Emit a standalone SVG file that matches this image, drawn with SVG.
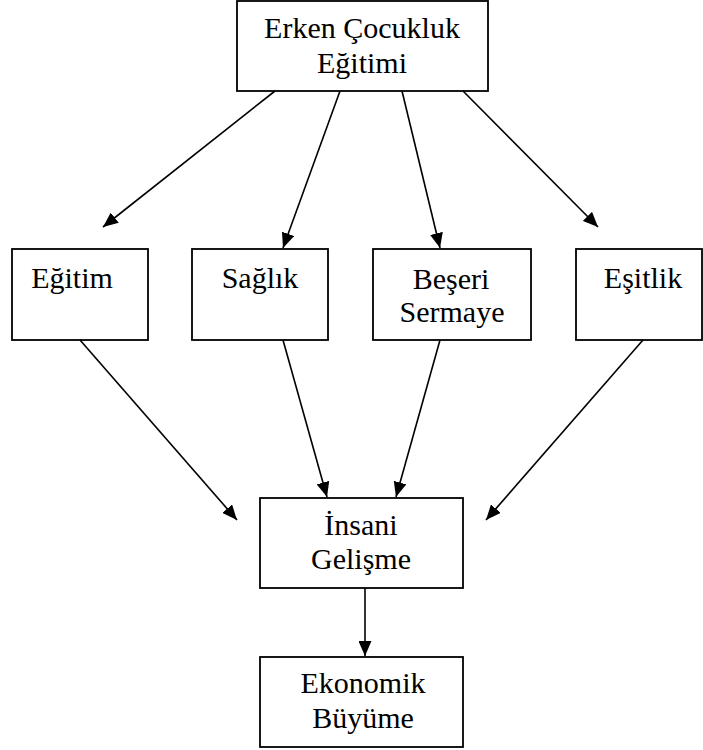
<svg xmlns="http://www.w3.org/2000/svg" width="703" height="750" viewBox="0 0 703 750">
<style>
.box{fill:#fff;stroke:#000;stroke-width:1.8}
.t{font-family:"Liberation Serif","Times New Roman","DejaVu Serif",serif;font-size:30px;fill:#000;text-anchor:middle}
.c line{stroke:#000;stroke-width:1.6;marker-end:url(#ah)}
</style>
<defs>
<marker id="ah" viewBox="0 0 15 13" refX="15" refY="6.5" markerWidth="15" markerHeight="13" markerUnits="userSpaceOnUse" orient="auto">
<path d="M0,0 L15,6.5 L0,13 Z" fill="#000"/>
</marker>
</defs>
<rect width="703" height="750" fill="#fff"/>
<g id="n-erken"><rect class="box" x="237" y="1" width="251" height="90"/><text class="t" x="362" y="38">Erken Çocukluk</text><text class="t" x="362" y="73">Eğitimi</text></g>
<g id="n-egitim"><rect class="box" x="12" y="249" width="136" height="91"/><text class="t" x="72" y="288">Eğitim</text></g>
<g id="n-saglik"><rect class="box" x="192" y="249" width="136" height="91"/><text class="t" x="260" y="288">Sağlık</text></g>
<g id="n-beseri"><rect class="box" x="373" y="249" width="158" height="91"/><text class="t" x="451" y="289">Beşeri</text><text class="t" x="452" y="322">Sermaye</text></g>
<g id="n-esitlik"><rect class="box" x="576" y="249" width="126" height="91"/><text class="t" x="643" y="288">Eşitlik</text></g>
<g id="n-insani"><rect class="box" x="260" y="498" width="203" height="90"/><text class="t" x="361" y="535">İnsani</text><text class="t" x="361" y="569">Gelişme</text></g>
<g id="n-ekonomik"><rect class="box" x="260" y="657" width="203" height="90"/><text class="t" x="363" y="693">Ekonomik</text><text class="t" x="363" y="728">Büyüme</text></g>
<g id="connectors" class="c">
<line x1="275" y1="91" x2="103" y2="227"/>
<line x1="340" y1="91" x2="283" y2="248"/>
<line x1="402" y1="91" x2="440" y2="248"/>
<line x1="463" y1="91" x2="598" y2="227"/>
<line x1="80" y1="340" x2="237" y2="520"/>
<line x1="283" y1="340" x2="327" y2="497"/>
<line x1="440" y1="340" x2="396" y2="497"/>
<line x1="643" y1="340" x2="486" y2="520"/>
<line x1="365" y1="588" x2="365" y2="656"/>
</g>
</svg>
